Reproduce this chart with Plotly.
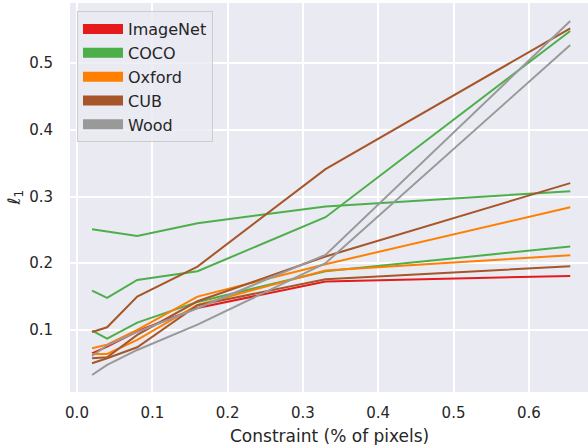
import plotly.graph_objects as go

# Constraint (% of pixels)
constraint = [0.02, 0.04, 0.08, 0.16, 0.33, 0.655]

imagenet_runs = [
    [0.065, 0.075, 0.098, 0.133, 0.1725, 0.181],
]
coco_runs = [
    [0.251, 0.248, 0.241, 0.260, 0.285, 0.308],
    [0.159, 0.148, 0.175, 0.188, 0.269, 0.548],
    [0.099, 0.087, 0.111, 0.142, 0.188, 0.225],
]
oxford_runs = [
    [0.0726, 0.078, 0.100, 0.150, 0.1985, 0.284],
    [0.064, 0.064, 0.085, 0.1375, 0.189, 0.212],
]
cub_runs = [
    [0.097, 0.104, 0.150, 0.195, 0.341, 0.552],
    [0.0575, 0.059, 0.0925, 0.143, 0.210, 0.320],
    [0.050, 0.0575, 0.074, 0.137, 0.176, 0.1955],
]
wood_runs = [
    [0.061, 0.077, 0.097, 0.1325, 0.2125, 0.563],
    [0.0325, 0.0475, 0.070, 0.108, 0.200, 0.527],
]

series_names = ["ImageNet", "COCO", "Oxford", "CUB", "Wood"]
series_runs = [imagenet_runs, coco_runs, oxford_runs, cub_runs, wood_runs]
colors = ["#e41a1c", "#4daf4a", "#ff7f00", "#a65628", "#999999"]

x_ticks = [0.0, 0.1, 0.2, 0.3, 0.4, 0.5, 0.6]
y_ticks = [0.1, 0.2, 0.3, 0.4, 0.5]
x_title = "Constraint (% of pixels)"
y_title = "ℓ<sub>1</sub>"

fig = go.Figure()
for name, runs, col in zip(series_names, series_runs, colors):
    for run in runs:
        fig.add_trace(go.Scatter(
            x=constraint, y=run, mode="lines",
            line=dict(color=col, width=2),
            showlegend=False, hoverinfo="skip",
        ))

# legend patches
for i, (name, col) in enumerate(zip(series_names, colors)):
    fig.add_trace(go.Scatter(
        x=[None], y=[None], mode="lines", name=name,
        line=dict(color=col, width=12),
        legendgroup=f"g{i}",
    ))

fig.update_layout(
    width=588, height=445,
    margin=dict(l=70, r=0, t=3, b=53, autoexpand=False),
    paper_bgcolor="white",
    plot_bgcolor="#EAEAF2",
    font=dict(family="DejaVu Sans", color="#262626", size=15),
    legend=dict(
        x=0.0135, y=0.979, xanchor="left", yanchor="top",
        bgcolor="rgba(234,234,242,0.8)",
        bordercolor="#CCCCCC", borderwidth=1,
        font=dict(size=16, color="#262626"),
        traceorder="grouped", tracegroupgap=0,
        itemwidth=40,
    ),
    showlegend=True,
    annotations=[
        dict(text=x_title, xref="paper", yref="paper", x=0.5, y=-0.113,
             xanchor="center", yanchor="middle", showarrow=False,
             font=dict(size=17, color="#262626")),
        dict(text=y_title, xref="paper", yref="paper", x=-0.106, y=0.5,
             xanchor="center", yanchor="middle", showarrow=False, textangle=-90,
             font=dict(size=17, color="#262626")),
    ],
)
fig.update_xaxes(
    range=[-0.0093, 0.6786], automargin=False,
    tickvals=x_ticks, ticktext=[f"{v:.1f}" for v in x_ticks],
    showgrid=True, gridcolor="white", gridwidth=1.5,
    zeroline=False, showline=False, ticks="",
    ticklabelstandoff=10,
)
fig.update_yaxes(
    range=[0.007, 0.590], automargin=False,
    tickvals=y_ticks, ticktext=[f"{v:.1f}" for v in y_ticks],
    showgrid=True, gridcolor="white", gridwidth=1.5,
    zeroline=False, showline=False, ticks="",
    ticklabelstandoff=16,
)

fig.write_html(
    "out.html",
    config={"displayModeBar": False},
    post_script="document.body.style.margin='0';document.body.style.padding='0';",
)
